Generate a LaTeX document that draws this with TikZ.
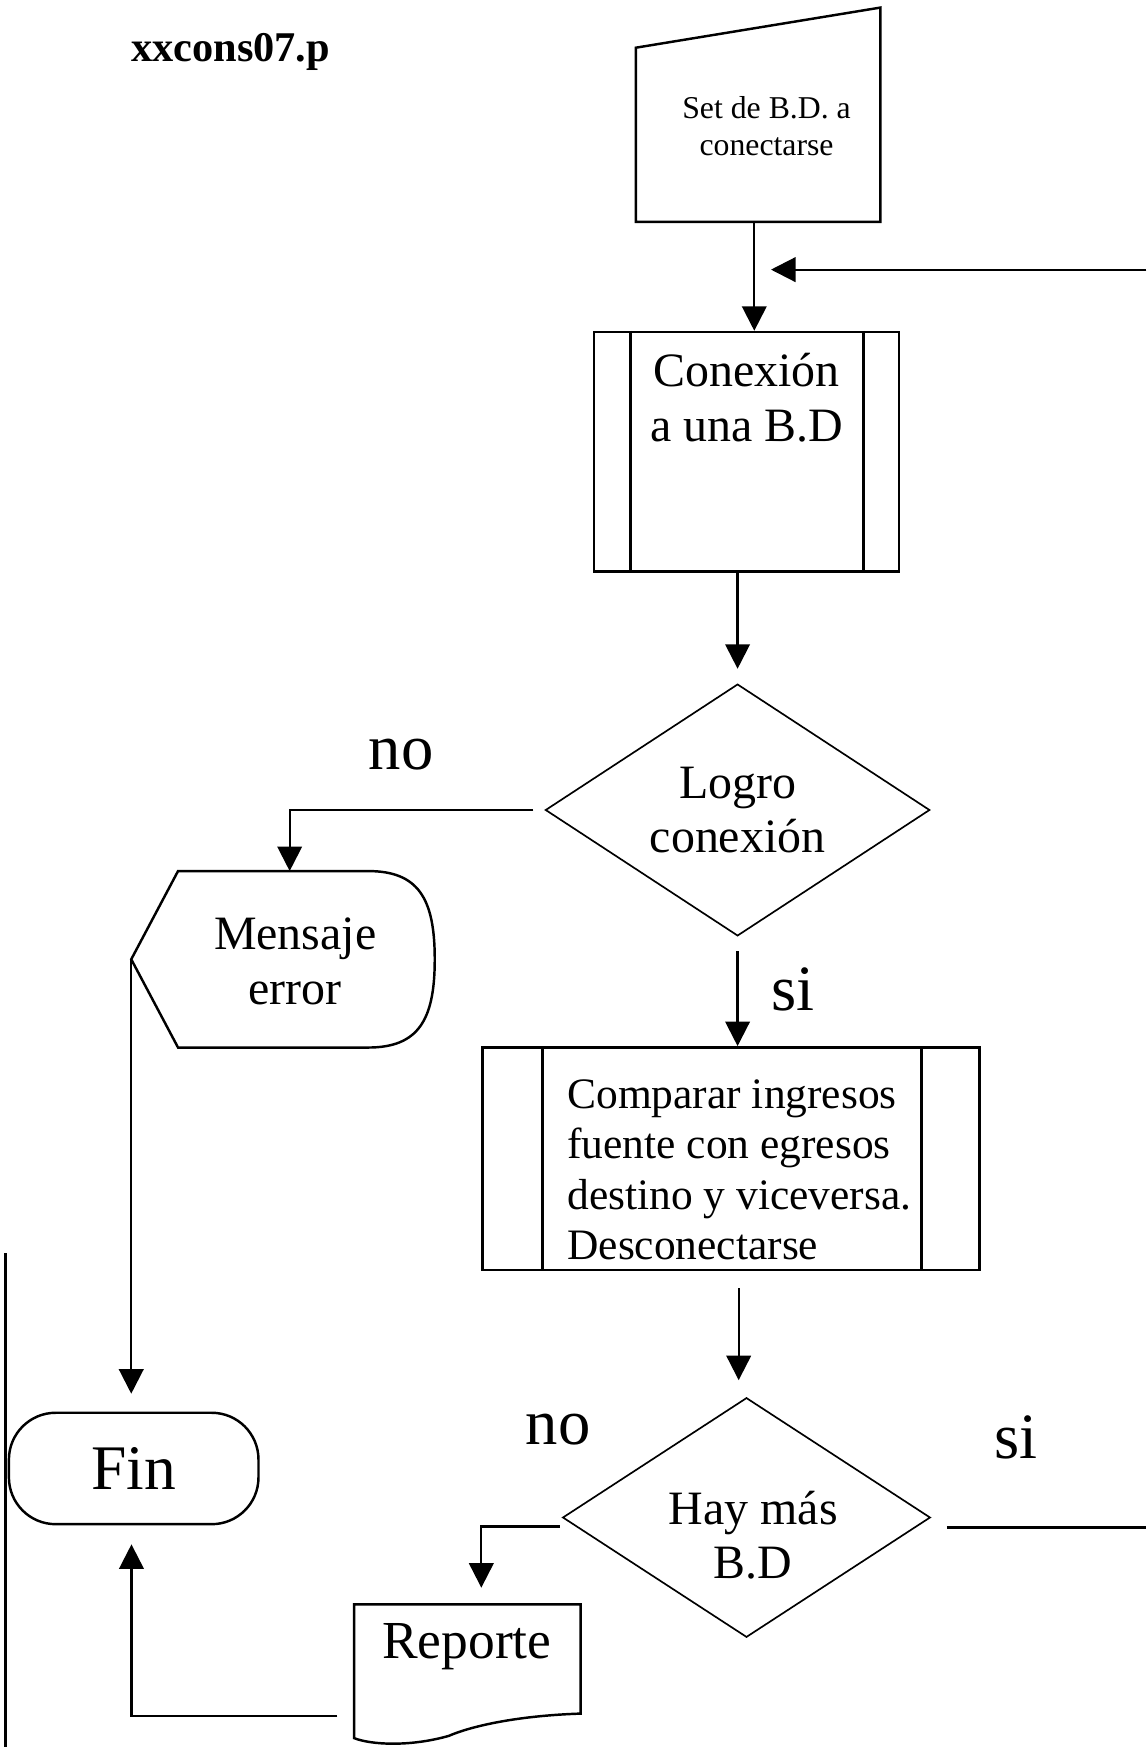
\documentclass[tikz,border=0pt]{standalone}
\usepackage{fontspec}
\setmainfont{Liberation Serif}
\usetikzlibrary{arrows.meta,calc,shapes.geometric}
\begin{document}
\begin{tikzpicture}[x=1pt,y=-1pt,
  box/.style={draw, line width=2.2pt, inner sep=0pt},
  ghost/.style={inner sep=0pt},
  outline/.style={line width=2.2pt, line join=miter},
  arr/.style={line width=2pt, -{Triangle[length=22pt,width=22pt]}},
  conn/.style={line width=2pt},
  big/.style={align=center, inner sep=0pt, font=\fontsize{43}{49}\selectfont},
  lbl/.style={inner sep=0pt, font=\fontsize{58}{60}\selectfont}
]
\useasboundingbox (0,0) rectangle (1029,1568);

% title
\node[inner sep=0pt, font=\bfseries\fontsize{38}{40}\selectfont] (title) at (207,47) {xxcons07.p};

% manual input
\node[ghost, minimum width=219pt, minimum height=192pt] (set) at (680.5,103) {};
\draw[outline] (set.south west) -- (set.south east) -- (set.north east) -- ($(set.north west)+(0,36)$) -- cycle;
\node[align=center, inner sep=0pt, font=\fontsize{28.5}{33}\selectfont] (settxt) at (688,113) {Set de B.D. a\\conectarse};

% subroutine 1
\node[box, minimum width=274pt, minimum height=215pt] (sub1) at (670,405.5) {};
\draw[outline] ($(sub1.north west)+(34,0)$) -- ($(sub1.south west)+(34,0)$);
\draw[outline] ($(sub1.north east)+(-33,0)$) -- ($(sub1.south east)+(-33,0)$);
\node[big] (sub1t) at (670,357) {Conexión\\a una B.D};

% decision 1
\node[draw, shape=diamond, aspect=1.53, line width=1.5pt, inner sep=0pt,
      minimum width=345pt, minimum height=226pt, big] (d1) at (662,727) {Logro\\conexión};

% display: Mensaje error
\node[ghost, minimum width=272pt, minimum height=158pt] (msg) at (254,861) {};
\draw[outline] (msg.west) -- ($(msg.north west)+(42,0)$) -- ($(msg.north east)+(-60,0)$)
  .. controls ($(msg.north east)+(-15,0)$) and ($(msg.east)+(0,-55)$) .. (msg.east)
  .. controls ($(msg.east)+(0,55)$) and ($(msg.south east)+(-15,0)$) .. ($(msg.south east)+(-60,0)$)
  -- ($(msg.south west)+(42,0)$) -- cycle;
\node[big] (msgt) at (265,863) {Mensaje\\error};

% terminator Fin
\node[box, rounded corners=42pt, minimum width=224pt, minimum height=100pt,
      font=\fontsize{57}{60}\selectfont] (fin) at (120,1318) {Fin};

% subroutine 2
\node[box, minimum width=446pt, minimum height=200pt] (sub2) at (656,1040) {};
\draw[outline] ($(sub2.north west)+(55,0)$) -- ($(sub2.south west)+(55,0)$);
\draw[outline] ($(sub2.north east)+(-53,0)$) -- ($(sub2.south east)+(-53,0)$);
\node[anchor=west, align=left, inner sep=0pt, font=\fontsize{39}{45}\selectfont] (sub2t) at (509,1050)
  {Comparar ingresos\\fuente con egresos\\destino y viceversa.\\Desconectarse};

% decision 2
\node[draw, shape=diamond, line width=1.5pt, inner sep=0pt,
      minimum width=330pt, minimum height=215pt] (d2) at (670,1362) {};
\node[big] (d2t) at (676,1378) {Hay más\\B.D};

% document Reporte
\node[ghost, minimum width=203pt, minimum height=100pt, anchor=north] (rep) at (419.5,1440) {};
\draw[outline] (rep.north west) -- (rep.north east) -- ($(rep.north east)+(0,98)$)
  .. controls ($(rep.north east)+(-60,100)$) and ($(rep.north east)+(-100,110)$) .. ($(rep.north west)+(85,118)$)
  .. controls ($(rep.north west)+(50,128)$) and ($(rep.north west)+(15,126)$) .. ($(rep.north west)+(0,120)$)
  -- cycle;
\node[inner sep=0pt, font=\fontsize{48}{50}\selectfont] (rept) at (419,1478) {Reporte};

% labels
\node[lbl] (no1) at (360,677) {no};
\node[lbl] (si1) at (712,888) {si};
\node[lbl] (no2) at (501,1283) {no};
\node[lbl] (si2) at (912,1290) {si};

% free ends
\coordinate (loopR) at (1029,242);
\coordinate (loopTip) at (692,242);
\coordinate (siR) at (1029,1371);
\coordinate (edgeTop) at (5,1125);
\coordinate (edgeBot) at (5,1568);

% connectors
\draw[arr] ($(set.south)+(-3.5,0)$) -- ($(sub1.north)+(7,0)$);
\draw[arr] (loopR) -- (loopTip);
\draw[arr] (sub1.south -| d1.north) -- ($(d1.north)+(0,-13)$);
\draw[arr] ($(d1.west)+(-10,0)$) -| ($(msg.north)+(6,0)$);
\draw[arr] ($(d1.south)+(0,13)$) -- (d1.south |- sub2.north);
\draw[arr] (msg.west) -- ($(msg.west |- fin.north)+(0,-16)$);
\draw[arr] ($(sub2.south)+(7,15)$) -- ($(d2.north)+(-7,-15)$);
\draw[arr] ($(d2.west)+(-2,8)$) -| ($(rep.north)+(12.5,-15)$);
\draw[conn] ($(d2.east)+(14,9)$) -- (siR);
\draw[arr] ($(rep.north west)+(-15,100)$) -| ($(fin.south)+(-2,17)$);
\draw[line width=2.4pt] (edgeTop) -- (edgeBot);
\end{tikzpicture}
\end{document}
